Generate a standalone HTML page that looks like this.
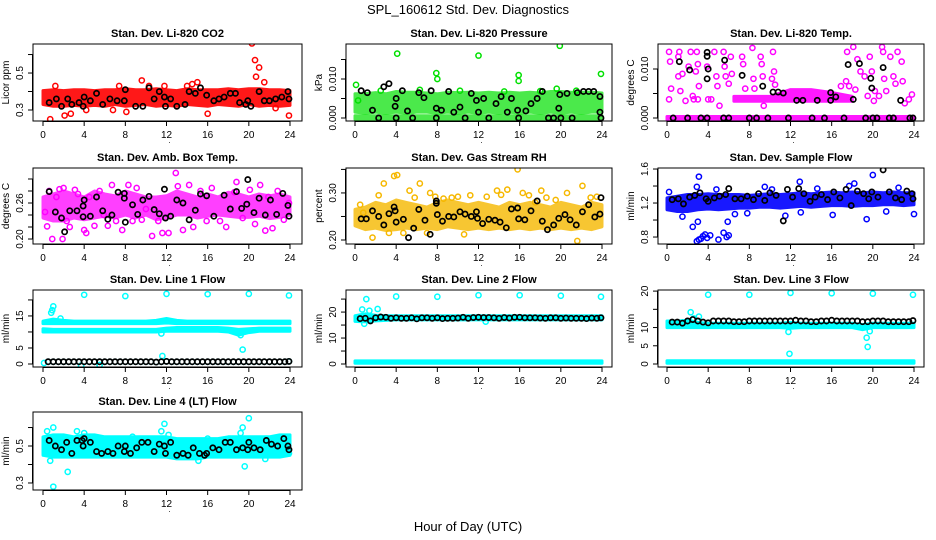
<!DOCTYPE html>
<html><head><meta charset="utf-8">
<style>
html,body{margin:0;padding:0;background:#fff;}
svg{display:block;font-family:"Liberation Sans",sans-serif;}
</style></head>
<body>
<svg id="chart" width="936" height="540" viewBox="0 0 936 540" xmlns="http://www.w3.org/2000/svg">
<rect width="936" height="540" fill="#fff"/>
<text x="468" y="14" text-anchor="middle" font-size="13">SPL_160612  Std. Dev. Diagnostics</text>
<text x="468" y="531" text-anchor="middle" font-size="13">Hour of Day (UTC)</text>
</svg>
<script>
// ---------- data ----------
const xTicks = [0,4,8,12,16,20,24];
const bandHours = [0,1,2,3,4,5,6,7,8,9,10,11,12,13,14,15,16,17,18,19,20,21,22,23,24];
const halfHours = [0.5,1,1.5,2,2.5,3,3.5,4,4.5,5,5.5,6,6.5,7,7.5,8,8.5,9,9.5,10,10.5,11,11.5,12,12.5,13,13.5,14,14.5,15,15.5,16,16.5,17,17.5,18,18.5,19,19.5,20,20.5,21,21.5,22,22.5,23,23.5,23.9];

// CO2
const co2Lo = [0.33,0.32,0.32,0.325,0.32,0.325,0.32,0.33,0.32,0.325,0.33,0.32,0.325,0.32,0.33,0.325,0.32,0.33,0.325,0.32,0.33,0.32,0.325,0.32,0.325];
const co2Hi = [0.405,0.41,0.405,0.41,0.41,0.405,0.41,0.41,0.415,0.41,0.41,0.415,0.41,0.405,0.415,0.41,0.41,0.41,0.415,0.41,0.415,0.415,0.41,0.41,0.405];
const co2OutX = [0.7,1.2,2.1,2.7,4.2,7.4,8.1,9.6,10.3,11.8,14.0,14.5,15.0,16.0,20.3,20.6,21.0,20.7,21.5,23.9,22.6,6.8];
const co2OutY = [0.25,0.43,0.27,0.28,0.30,0.43,0.29,0.46,0.43,0.43,0.43,0.44,0.45,0.28,0.66,0.57,0.53,0.48,0.45,0.27,0.31,0.30];
const co2BlkX = [0.6,1.3,1.8,2.4,2.8,3.5,3.9,4.0,4.6,5.2,5.8,6.5,7.2,7.9,8.0,9.0,9.7,10.3,10.8,11.3,11.8,11.9,12.4,13.0,13.8,14.2,14.8,15.3,15.9,16.6,17.1,17.6,18.2,18.7,19.1,19.7,19.9,20.2,21.0,21.5,22.0,22.6,23.2,23.8,23.9];
const co2BlkY = [0.34,0.36,0.32,0.36,0.33,0.34,0.32,0.37,0.35,0.39,0.33,0.36,0.35,0.35,0.41,0.32,0.32,0.42,0.36,0.40,0.37,0.32,0.36,0.32,0.33,0.40,0.39,0.42,0.38,0.35,0.36,0.37,0.39,0.39,0.34,0.33,0.35,0.32,0.40,0.35,0.35,0.36,0.37,0.40,0.36];

// Pressure
const prLo = [0.0015,0.0012,0.0015,0.0012,0.0015,0.0012,0.0015,0.0015,0.0012,0.0015,0.0012,0.0015,0.0012,0.0015,0.0012,0.0015,0.0012,0.0015,0.0012,0.0015,0.0012,0.0015,0.0012,0.0015,0.0015];
const prHi = [0.0062,0.0062,0.0065,0.0062,0.0068,0.0066,0.0066,0.0064,0.0062,0.0066,0.0065,0.0066,0.0064,0.0066,0.0064,0.0066,0.0064,0.0066,0.0064,0.0068,0.0068,0.0066,0.0066,0.0066,0.0064];
const prZeroLo = [-0.0003,-0.0003,-0.0003,-0.0003,-0.0003,-0.0003,-0.0003,-0.0003,-0.0003,-0.0003,-0.0003,-0.0003,-0.0003,-0.0003,-0.0003,-0.0003,-0.0003,-0.0003,-0.0003,-0.0003,-0.0003,-0.0003,-0.0003,-0.0003,-0.0003];
const prZeroHi = [0.0006,0.0006,0.0006,0.0006,0.0006,0.0006,0.0006,0.0006,0.0006,0.0006,0.0006,0.0006,0.0006,0.0006,0.0006,0.0006,0.0006,0.0006,0.0006,0.0006,0.0006,0.0006,0.0006,0.0006,0.0006];
const prOutX = [0.1,4.1,7.9,8.0,12.0,15.9,15.9,19.9,23.9,19.6,0.3,2.5,6.3,10.2,14.5,18.0,21.5];
const prOutY = [0.0085,0.0165,0.0115,0.0100,0.0160,0.0110,0.0095,0.0185,0.0113,0.0075,0.0045,0.0070,0.0072,0.0070,0.0068,0.0069,0.0070];
const prBlkX = [0.6,1.2,1.7,2.3,2.8,3.3,3.9,4.0,4.0,4.6,5.1,5.6,6.2,6.7,7.4,7.9,7.9,8.4,9.1,9.6,10.2,10.7,11.3,11.8,12.0,12.5,13.0,13.7,14.2,14.8,15.2,15.8,15.9,16.6,17.1,17.7,18.2,18.8,19.3,19.8,19.9,20.0,20.6,21.1,21.6,22.2,22.7,23.2,23.8,23.8,23.9];
const prBlkY = [0.0070,0.0065,0.0020,0,0.0080,0.0088,0.0030,0.0050,0,0.0070,0.0018,0,0.0065,0.0052,0.0070,0.0025,0,0.0020,0.0068,0.0015,0.0028,0,0.0063,0.0045,0.0015,0.0050,0,0.0037,0.0055,0.0015,0.0050,0.0020,0,0.0018,0.0037,0.0050,0.0068,0,0,0.0025,0.0060,0,0.0063,0,0.0065,0.0068,0.0068,0.0068,0.0055,0.0015,0];

// Li-820 Temp
const tmZeroLo = [-0.0003,-0.0003,-0.0003,-0.0003,-0.0003,-0.0003,-0.0003,-0.0003,-0.0003,-0.0003,-0.0003,-0.0003,-0.0003,-0.0003,-0.0003,-0.0003,-0.0003,-0.0003,-0.0003,-0.0003,-0.0003,-0.0003,-0.0003,-0.0003,-0.0003];
const tmZeroHi = [0.0003,0.0003,0.0003,0.0003,0.0003,0.0003,0.0003,0.0003,0.0003,0.0003,0.0003,0.0003,0.0003,0.0003,0.0003,0.0003,0.0003,0.0003,0.0003,0.0003,0.0003,0.0003,0.0003,0.0003,0.0003];
const tmMidHours = [6.5,8,10,12,14,16,18];
const tmMidLo = [0.0034,0.0034,0.0034,0.0034,0.0034,0.0034,0.0034];
const tmMidHi = [0.0044,0.0044,0.0044,0.0058,0.0058,0.0052,0.0044];
const tmOutX = [0.2,0.3,0.4,0.2,1.1,1.2,1.1,1.3,1.5,1.8,2.1,2.3,2.5,2.8,2.9,3.0,3.1,3.9,4.3,4.6,4.8,4.9,5.1,5.5,5.6,5.7,6.0,6.2,6.3,7.3,7.4,7.6,8.3,8.4,8.5,9.1,9.2,9.3,9.4,10.3,10.4,10.2,10.5,17.5,17.4,17.7,18.1,18.5,18.8,19.2,19.7,19.9,20.2,20.6,20.9,21.0,21.1,21.3,21.7,22.0,22.2,22.4,22.8,22.9,23.1,23.5,23.8,16.9,19.5,20.1,18.3,4.0,3.0,2.6];
const tmOutY = [0.0135,0.0115,0.0060,0.0038,0.0125,0.0135,0.0085,0.0055,0.0090,0.0035,0.0105,0.0135,0.0045,0.0095,0.0135,0.0110,0.0065,0.0105,0.0038,0.0135,0.0085,0.0065,0.0025,0.0135,0.0105,0.0085,0.0070,0.0125,0.0090,0.0125,0.0110,0.0060,0.0143,0.0080,0.0060,0.0125,0.0110,0.0085,0.0025,0.0135,0.0095,0.0080,0.0068,0.0135,0.0075,0.0065,0.0145,0.0120,0.0095,0.0085,0.0125,0.0095,0.0055,0.0045,0.0145,0.0135,0.0080,0.0055,0.0125,0.0085,0.0070,0.0135,0.0115,0.0075,0.0030,0.0038,0.0048,0.0065,0.0045,0.0035,0.0058,0.0038,0.0038,0.0038];
const tmBlkX = [1.2,2.2,3.9,3.9,3.9,4.0,5.6,7.3,9.3,10.3,10.8,11.3,12.6,13.2,14.6,15.9,15.9,16.4,17.6,18.1,18.7,19.8,19.9,21.0,22.7,0.6,2.0,3.3,3.9,5.5,6.0,8.0,8.7,9.8,11.8,14.1,15.3,17.2,19.3,20.0,20.4,21.6,22.0,23.6,23.9];
const tmBlkY = [0.0115,0.0098,0.0134,0.0126,0.0080,0.0100,0.0118,0.0087,0.0065,0.0053,0.0053,0.0051,0.0036,0.0036,0.0036,0.0036,0.0052,0.0043,0.0109,0.0038,0.0111,0.0081,0.0061,0.0103,0.0036,0,0,0,0,0,0,0,0,0,0,0,0,0,0,0,0,0,0,0,0];

// Amb box temp
const abLo = [0.235,0.23,0.23,0.235,0.232,0.235,0.238,0.235,0.24,0.235,0.24,0.232,0.235,0.24,0.24,0.235,0.238,0.24,0.238,0.236,0.236,0.238,0.234,0.236,0.24];
const abHi = [0.27,0.275,0.28,0.275,0.27,0.28,0.275,0.272,0.28,0.275,0.27,0.27,0.272,0.28,0.275,0.27,0.275,0.27,0.278,0.275,0.27,0.275,0.272,0.275,0.27];
const abOutX = [0.2,0.4,0.6,0.9,1.3,1.6,1.9,2.0,2.3,2.6,3.1,3.4,4.0,4.2,4.5,5.0,5.5,5.9,6.3,6.7,7.1,7.7,8.3,8.7,9.1,9.6,10.0,10.6,11.2,11.6,12.2,12.9,13.1,13.6,14.2,14.6,15.3,15.9,16.4,17.2,17.8,18.6,18.8,19.4,20.1,20.6,21.1,21.6,21.9,22.3,22.8,23.4,23.9];
const abOutY = [0.245,0.221,0.28,0.20,0.27,0.283,0.20,0.285,0.23,0.22,0.282,0.275,0.215,0.21,0.27,0.222,0.28,0.24,0.222,0.29,0.23,0.215,0.29,0.23,0.285,0.232,0.25,0.205,0.23,0.21,0.21,0.31,0.288,0.215,0.29,0.22,0.28,0.23,0.285,0.23,0.22,0.278,0.295,0.235,0.282,0.225,0.29,0.214,0.27,0.218,0.28,0.232,0.26];
const abBlkX = [0.6,1.2,1.8,2.1,2.6,3.3,3.9,3.9,4.0,4.6,5.2,5.8,6.3,6.7,7.3,7.9,7.9,8.0,8.7,9.2,9.7,10.3,10.8,11.3,11.8,11.9,12.4,13.0,13.6,14.2,14.8,15.3,15.9,16.6,17.6,18.2,18.8,19.3,19.8,19.9,20.5,21.0,21.6,22.1,22.7,23.3,23.8,23.9];
const abBlkY = [0.279,0.245,0.235,0.212,0.247,0.247,0.237,0.255,0.265,0.238,0.27,0.247,0.233,0.24,0.278,0.268,0.276,0.228,0.257,0.241,0.265,0.271,0.249,0.242,0.283,0.235,0.238,0.265,0.26,0.232,0.248,0.275,0.272,0.238,0.273,0.25,0.279,0.251,0.258,0.299,0.244,0.268,0.240,0.265,0.241,0.276,0.256,0.238];

// Gas stream RH
const rhLo = [0.23,0.222,0.225,0.22,0.222,0.225,0.222,0.225,0.222,0.228,0.225,0.222,0.225,0.222,0.225,0.222,0.225,0.222,0.225,0.222,0.225,0.222,0.225,0.222,0.228];
const rhHi = [0.265,0.27,0.28,0.275,0.285,0.28,0.275,0.27,0.28,0.285,0.28,0.275,0.28,0.275,0.27,0.28,0.275,0.28,0.275,0.27,0.28,0.275,0.27,0.28,0.275];
const rhOutX = [0.5,1.7,2.3,2.8,3.3,3.8,4.1,4.7,5.3,5.8,6.3,7.0,7.3,7.8,8.6,9.4,10.0,11.2,12.8,13.8,14.2,14.8,15.8,16.3,16.9,17.5,18.1,18.6,19.5,20.6,21.6,22.1,22.9,23.5,0.8,10.6];
const rhOutY = [0.275,0.205,0.295,0.32,0.215,0.336,0.338,0.215,0.305,0.29,0.32,0.215,0.30,0.292,0.288,0.29,0.292,0.295,0.292,0.305,0.296,0.307,0.35,0.30,0.295,0.28,0.305,0.29,0.285,0.30,0.198,0.315,0.29,0.292,0.258,0.212];
const rhBlkX = [0.6,1.1,1.7,2.3,2.8,3.3,3.8,3.9,4.0,4.7,5.2,5.7,6.2,6.8,7.3,7.9,7.9,8.0,8.5,9.1,9.6,10.2,10.7,11.3,11.8,11.9,12.4,13.0,13.6,14.1,14.7,15.2,15.8,15.9,16.5,17.1,17.7,18.2,18.7,19.3,19.8,20.4,20.9,21.5,22.1,22.7,23.3,23.8,23.9];
const rhBlkY = [0.245,0.245,0.262,0.25,0.232,0.256,0.27,0.262,0.238,0.244,0.205,0.225,0.265,0.242,0.212,0.283,0.278,0.254,0.24,0.25,0.249,0.26,0.255,0.25,0.26,0.246,0.235,0.244,0.242,0.238,0.226,0.266,0.268,0.245,0.243,0.262,0.283,0.24,0.222,0.232,0.246,0.254,0.243,0.232,0.26,0.275,0.249,0.255,0.29];

// Sample flow
const sfLo = [1.12,1.1,1.1,1.12,1.13,1.12,1.13,1.14,1.14,1.15,1.15,1.14,1.15,1.16,1.15,1.16,1.17,1.17,1.16,1.17,1.17,1.18,1.18,1.17,1.18];
const sfHi = [1.26,1.28,1.3,1.3,1.31,1.3,1.3,1.3,1.29,1.3,1.31,1.3,1.31,1.32,1.31,1.32,1.33,1.32,1.33,1.32,1.33,1.32,1.33,1.32,1.32];
const sfOutX = [2.9,3.1,3.3,3.5,3.7,3.9,4.2,5.0,5.5,5.8,6.0,3.0,5.9,2.5,3.1,2.9,20.0,19.4,24.0,16.1,0.2,6.6,13.0,18.2,12.9,21.3,17.7,11.5,9.5,1.5,4.8,7.8,10.2,14.6,22.5];
const sfOutY = [0.75,0.77,0.78,0.81,0.83,0.79,0.82,0.77,0.85,0.80,0.82,0.98,0.98,0.92,1.51,1.39,1.53,1.01,1.07,1.06,1.33,1.07,1.09,1.43,1.45,1.10,1.40,1.05,1.39,1.04,1.36,1.08,1.36,1.37,1.38];
const sfBlkX = [0.5,1.1,1.6,2.2,2.7,3.2,3.8,4.0,4.6,5.1,5.7,6.0,6.6,7.2,7.8,8.4,8.9,9.5,10.0,10.6,11.3,11.7,12.2,12.8,13.3,13.9,14.4,15.0,15.6,16.2,16.8,17.4,17.9,18.5,19.1,19.6,19.9,20.5,21.0,21.6,22.2,22.8,23.3,23.8,23.9];
const sfBlkY = [1.24,1.25,1.19,1.27,1.29,1.32,1.25,1.22,1.26,1.28,1.30,1.37,1.25,1.25,1.28,1.24,1.31,1.23,1.32,1.29,0.99,1.36,1.27,1.37,1.31,1.22,1.27,1.30,1.24,1.33,1.26,1.36,1.17,1.34,1.31,1.25,1.33,1.27,1.59,1.33,1.26,1.24,1.34,1.31,1.25];

// Line 1 flow
const l1aLo = [12.6,12.6,12.6,12.6,12.6,12.6,12.6,12.6,12.6,12.6,12.6,12.6,12.8,12.6,12.6,12.6,12.6,12.6,12.6,12.6,12.6,12.6,12.6,12.6,12.6];
const l1aHi = [13.4,14.0,13.6,13.4,13.4,13.4,13.4,13.4,13.4,13.4,13.4,13.6,14.2,13.6,13.4,13.4,13.4,13.4,13.4,13.4,13.4,13.4,13.4,13.4,13.4];
const l1bLo = [10.0,10.0,10.0,10.0,10.0,10.0,10.0,10.0,10.0,10.0,10.0,10.0,10.2,10.2,10.2,10.2,10.2,10.2,10.0,9.0,9.8,10.2,10.2,10.2,10.2];
const l1bHi = [11.0,10.8,10.8,10.8,10.8,10.8,10.8,10.8,10.8,10.8,10.8,10.8,11.2,11.4,11.4,11.4,11.4,11.4,11.2,10.8,11.0,11.2,11.2,11.2,11.2];
const l1OutX = [4.0,8.0,12.0,16.0,20.0,23.9,0.8,0.9,1.0,1.7,11.6,11.5,19.4,19.2,0.1,3.7,5.5];
const l1OutY = [21.6,21.2,21.9,21.8,21.9,21.4,16.0,16.8,18.0,14.2,2.5,9.5,4.5,9.0,0.3,-0.5,-0.3];
const l1BlkY = [0.7,0.7,0.7,0.7,0.7,0.7,0.7,0.7,0.7,0.7,0.7,0.7,0.7,0.7,0.7,0.7,0.7,0.7,0.7,0.7,0.7,0.6,0.7,0.8,0.7,0.7,0.7,0.7,0.7,0.7,0.7,0.7,0.7,0.7,0.7,0.7,0.7,0.7,0.7,0.7,0.7,0.7,0.7,0.7,0.7,0.7,0.7,0.8];

// Line 2 flow
const l2Lo = [16.4,16.2,16.6,16.8,17.0,17.0,17.0,17.0,17.0,17.0,17.0,17.0,17.0,17.0,17.0,17.0,17.0,17.0,17.0,17.0,17.0,17.0,17.0,17.0,17.0];
const l2Hi = [18.6,19.3,18.8,18.6,18.6,18.6,18.6,18.6,18.6,18.6,18.6,18.6,18.6,18.6,18.6,18.6,18.6,18.6,18.6,18.6,18.6,18.6,18.6,18.6,18.6];
const l2zLo = [0.3,0.3,0.3,0.3,0.3,0.3,0.3,0.3,0.3,0.3,0.3,0.3,0.3,0.3,0.3,0.3,0.3,0.3,0.3,0.3,0.3,0.3,0.3,0.3,0.3];
const l2zHi = [1.2,1.2,1.2,1.2,1.2,1.2,1.2,1.2,1.2,1.2,1.2,1.2,1.2,1.2,1.2,1.2,1.2,1.2,1.2,1.2,1.2,1.2,1.2,1.2,1.2];
const l2OutX = [1.1,4.0,8.0,12.0,16.0,20.0,23.9,0.7,1.4,2.2,0.9,12.7];
const l2OutY = [25.0,26.0,25.9,26.5,26.5,26.3,25.9,21.0,20.5,21.2,15.5,16.3];
const l2BlkY = [17.5,17.6,16.6,17.8,18.1,18.0,17.6,17.8,17.6,17.6,17.8,17.4,17.8,17.8,17.6,17.8,17.5,17.6,17.6,17.7,18.0,17.6,17.9,18.0,17.9,17.9,17.8,17.6,17.9,17.7,18.0,18.0,17.8,17.8,17.8,17.7,17.6,17.8,17.8,17.6,17.7,17.6,17.6,17.6,17.5,17.7,17.6,17.8];

// Line 3 flow
const l3Lo = [10.0,10.0,10.0,10.0,10.0,10.0,10.0,10.0,10.0,10.0,10.0,10.0,9.8,10.0,10.0,10.0,10.0,10.0,10.0,9.4,10.0,10.0,10.0,10.0,10.0];
const l3Hi = [11.8,11.8,12.0,11.4,11.2,11.2,11.2,11.2,11.2,11.2,11.2,11.2,11.4,11.2,11.2,11.2,11.2,11.2,11.2,10.8,11.2,11.2,11.2,11.2,11.2];
const l3zLo = [0.2,0.2,0.2,0.2,0.2,0.2,0.2,0.2,0.2,0.2,0.2,0.2,0.2,0.2,0.2,0.2,0.2,0.2,0.2,0.2,0.2,0.2,0.2,0.2,0.2];
const l3zHi = [0.9,0.9,0.9,0.9,0.9,0.9,0.9,0.9,0.9,0.9,0.9,0.9,0.9,0.9,0.9,0.9,0.9,0.9,0.9,0.9,0.9,0.9,0.9,0.9,0.9];
const l3OutX = [4.0,8.0,12.0,16.0,20.0,23.9,2.3,11.8,11.9,19.4,19.5,19.7,3.1,2.6];
const l3OutY = [19.0,19.0,19.5,19.4,19.3,19.0,14.2,8.8,2.8,7.2,4.7,9.0,13.0,12.5];
const l3BlkY = [11.5,11.5,11.2,11.8,12.2,11.8,11.5,11.3,11.8,11.8,11.8,11.8,11.6,11.6,11.6,11.8,11.8,11.8,11.8,11.8,11.8,11.8,11.8,11.8,12.0,11.8,11.8,11.6,11.6,11.8,11.8,12.0,11.8,11.8,11.8,11.8,11.8,11.6,11.6,11.8,11.8,11.8,11.6,11.6,11.6,11.6,11.6,11.9];

// Line 4 flow
const l4Lo = [0.45,0.44,0.44,0.44,0.44,0.44,0.44,0.44,0.44,0.44,0.44,0.44,0.44,0.43,0.43,0.43,0.44,0.44,0.44,0.44,0.44,0.44,0.44,0.44,0.45];
const l4Hi = [0.55,0.56,0.56,0.55,0.56,0.56,0.55,0.55,0.55,0.55,0.55,0.55,0.55,0.54,0.54,0.54,0.54,0.54,0.55,0.55,0.55,0.55,0.55,0.56,0.56];
const l4OutX = [0.4,0.7,1.0,1.3,2.4,3.3,4.0,5.0,8.7,11.5,11.8,12.2,15.1,19.2,19.4,19.6,20.0,23.9,1.0,16.0,21.6];
const l4OutY = [0.58,0.42,0.60,0.47,0.36,0.58,0.57,0.46,0.55,0.58,0.62,0.56,0.42,0.57,0.60,0.39,0.65,0.46,0.28,0.54,0.43];
const l4BlkX = [0.6,1.2,1.8,2.3,2.8,3.3,3.8,3.9,4.0,4.6,5.2,5.7,6.3,6.8,7.3,7.9,8.0,8.5,9.1,9.6,10.2,10.8,11.3,11.8,11.9,12.4,13.0,13.6,14.1,14.6,15.2,15.7,15.9,16.5,17.1,17.7,18.2,18.8,19.4,19.9,20.0,20.5,21.1,21.7,22.2,22.8,23.4,23.8,23.9];
const l4BlkY = [0.53,0.50,0.48,0.52,0.46,0.53,0.53,0.50,0.54,0.52,0.47,0.46,0.47,0.46,0.50,0.47,0.50,0.46,0.49,0.52,0.52,0.47,0.51,0.50,0.46,0.52,0.45,0.46,0.45,0.49,0.46,0.45,0.46,0.49,0.48,0.52,0.52,0.48,0.49,0.48,0.52,0.49,0.48,0.53,0.51,0.50,0.54,0.50,0.48];

// ---------- layout ----------
const cols = [{l:33,r:302,x0:43,x24:290},{l:346,r:612,x0:355,x24:602},{l:658,r:924,x0:667,x24:914}];
const rows = [{t:44,b:121},{t:168,b:244},{t:290,b:367},{t:412,b:490}];
const RED='#ff0000',GRN='#00e000',MAG='#ff00ff',BLU='#0000ff',CYN='#00ffff',ORG='#f6b800';

const panels = [
 {name:'co2',c:0,r:0,title:'Stan. Dev. Li-820 CO2',ylab:'Licor ppm',top:0.657,bot:0.2405,ticks:[0.3,0.4,0.5,0.6],labels:{0.3:'0.3',0.5:'0.5'},col:RED,op:0.9,
  bands:[[bandHours,co2Lo,co2Hi]],pts:[[co2OutX,co2OutY]],blk:[co2BlkX,co2BlkY]},
 {name:'pressure',c:1,r:0,title:'Stan. Dev. Li-820 Pressure',ylab:'kPa',top:0.01897,bot:-0.00077,ticks:[0,0.005,0.01,0.015],labels:{0:'0.000',0.01:'0.010'},col:GRN,op:0.7,
  bands:[[bandHours,prLo,prHi],[bandHours,prZeroLo,prZeroHi]],pts:[[prOutX,prOutY]],blk:[prBlkX,prBlkY]},
 {name:'li820-temp',c:2,r:0,title:'Stan. Dev. Li-820 Temp.',ylab:'degrees C',top:0.0151,bot:-0.00061,ticks:[0,0.005,0.01],labels:{0:'0.000',0.01:'0.010'},col:MAG,op:0.9,
  bands:[[bandHours,tmZeroLo,tmZeroHi],[tmMidHours,tmMidLo,tmMidHi]],pts:[[tmOutX,tmOutY]],blk:[tmBlkX,tmBlkY]},
 {name:'amb-box-temp',c:0,r:1,title:'Stan. Dev. Amb. Box Temp.',ylab:'degrees C',top:0.3183,bot:0.1917,ticks:[0.2,0.22,0.24,0.26,0.28,0.3],labels:{0.2:'0.20',0.26:'0.26'},col:MAG,op:0.75,
  bands:[[bandHours,abLo,abHi]],pts:[[abOutX,abOutY]],blk:[abBlkX,abBlkY]},
 {name:'gas-rh',c:1,r:1,title:'Stan. Dev. Gas Stream RH',ylab:'percent',top:0.353,bot:0.1915,ticks:[0.2,0.25,0.3,0.35],labels:{0.2:'0.20',0.3:'0.30'},col:ORG,op:0.8,
  bands:[[bandHours,rhLo,rhHi]],pts:[[rhOutX,rhOutY]],blk:[rhBlkX,rhBlkY]},
 {name:'sample-flow',c:2,r:1,title:'Stan. Dev. Sample Flow',ylab:'ml/min',top:1.612,bot:0.718,ticks:[0.8,1.0,1.2,1.4,1.6],labels:{0.8:'0.8',1.2:'1.2',1.6:'1.6'},col:BLU,op:0.9,
  bands:[[bandHours,sfLo,sfHi]],pts:[[sfOutX,sfOutY]],blk:[sfBlkX,sfBlkY]},
 {name:'line1-flow',c:0,r:2,title:'Stan. Dev. Line 1 Flow',ylab:'ml/min',top:23.1,bot:-0.94,ticks:[0,5,10,15,20],labels:{0:'0',5:'5',15:'15'},col:CYN,op:1,
  bands:[[bandHours,l1aLo,l1aHi],[bandHours,l1bLo,l1bHi]],pts:[[l1OutX,l1OutY],[halfHours,l1BlkY]],blk:[halfHours,l1BlkY]},
 {name:'line2-flow',c:1,r:2,title:'Stan. Dev. Line 2 Flow',ylab:'ml/min',top:28.5,bot:-1.15,ticks:[0,5,10,15,20,25],labels:{0:'0',10:'10',20:'20'},col:CYN,op:1,
  bands:[[bandHours,l2Lo,l2Hi],[bandHours,l2zLo,l2zHi]],pts:[[l2OutX,l2OutY]],blk:[halfHours,l2BlkY]},
 {name:'line3-flow',c:2,r:2,title:'Stan. Dev. Line 3 Flow',ylab:'ml/min',top:20.3,bot:-0.82,ticks:[0,5,10,15,20],labels:{0:'0',5:'5',10:'10',20:'20'},col:CYN,op:1,
  bands:[[bandHours,l3Lo,l3Hi],[bandHours,l3zLo,l3zHi]],pts:[[l3OutX,l3OutY]],blk:[halfHours,l3BlkY]},
 {name:'line4-flow',c:0,r:3,title:'Stan. Dev. Line 4 (LT) Flow',ylab:'ml/min',top:0.684,bot:0.262,ticks:[0.3,0.4,0.5,0.6],labels:{0.3:'0.3',0.5:'0.5'},col:CYN,op:1,
  bands:[[bandHours,l4Lo,l4Hi]],pts:[[l4OutX,l4OutY]],blk:[l4BlkX,l4BlkY]}
];

const NS='http://www.w3.org/2000/svg';
const svg=document.getElementById('chart');
function mk(tag,attrs,parent){const e=document.createElementNS(NS,tag);for(const k in attrs)e.setAttribute(k,attrs[k]);parent.appendChild(e);return e;}

panels.forEach(p=>{
  const C=cols[p.c],R=rows[p.r];
  const sx=h=>C.x0+(C.x24-C.x0)*h/24;
  const sy=v=>R.t+(R.b-R.t)*(p.top-v)/(p.top-p.bot);
  const g=mk('g',{},svg);
  
  
  const clipId='clip-'+p.name;
  const cp=mk('clipPath',{id:clipId},g);
  mk('rect',{x:C.l,y:R.t,width:C.r-C.l,height:R.b-R.t},cp);
  const plot=mk('g',{'clip-path':'url(#'+clipId+')'},g);
  
  
  p.bands.forEach(([H,lo,hi])=>{
    let d='';
    H.forEach((h,i)=>{d+=(i?'L':'M')+sx(h).toFixed(1)+','+sy(hi[i]).toFixed(1);});
    for(let i=H.length-1;i>=0;i--)d+='L'+sx(H[i]).toFixed(1)+','+sy(lo[i]).toFixed(1);
    const b=mk('path',{d:d+'Z',fill:p.col,stroke:p.col,'stroke-width':3,'stroke-linejoin':'round',opacity:p.op},plot);
    
    
  });
  p.pts.forEach(([X,Y])=>{
    X.forEach((x,i)=>{
      const c=mk('circle',{cx:sx(x),cy:sy(Y[i]),r:2.6,fill:'none',stroke:p.col,'stroke-width':1.5},plot);
      
      
    });
  });
  const [BX,BY]=p.blk;
  BX.forEach((x,i)=>{
    const c=mk('circle',{cx:sx(x),cy:sy(BY[i]),r:2.6,fill:'none',stroke:'#000','stroke-width':1.7},plot);
    
    
  });
  const box=mk('rect',{x:C.l,y:R.t,width:C.r-C.l,height:R.b-R.t,fill:'none',stroke:'#000','stroke-width':1},g);
  
  
  const t=mk('text',{x:(C.l+C.r)/2,y:R.t-7,'text-anchor':'middle','font-size':11,'font-weight':'bold'},g);
  t.textContent=p.title;
  
  
  mk('line',{x1:sx(0),x2:sx(24),y1:R.b+0.5,y2:R.b+0.5,stroke:'#000'},g);
  xTicks.forEach(h=>{
    mk('line',{x1:sx(h),x2:sx(h),y1:R.b,y2:R.b+5,stroke:'#000'},g);
    const l=mk('text',{x:sx(h),y:R.b+17,'text-anchor':'middle','font-size':10},g);
    l.textContent=h;
    
    
  });
  const dot=mk('text',{x:sx(12.3),y:R.b+22,'text-anchor':'middle','font-size':8},g);
  dot.textContent='.';
  const ys=p.ticks.map(sy);
  mk('line',{x1:C.l-0.5,x2:C.l-0.5,y1:Math.min(...ys),y2:Math.max(...ys),stroke:'#000'},g);
  p.ticks.forEach(v=>{
    const y=sy(v);
    mk('line',{x1:C.l-5,x2:C.l,y1:y,y2:y,stroke:'#000'},g);
    if(p.labels[v]!==undefined){
      const l=mk('text',{x:C.l-10,y:y,'text-anchor':'middle','font-size':10,transform:'rotate(-90 '+(C.l-10)+' '+y+')'},g);
      l.textContent=p.labels[v];
      
      
    }
  });
  const yl=mk('text',{x:C.l-24,y:(R.t+R.b)/2,'text-anchor':'middle','font-size':10,transform:'rotate(-90 '+(C.l-24)+' '+((R.t+R.b)/2)+')'},g);
  yl.textContent=p.ylab;
  
  
});
</script>
</body></html>
